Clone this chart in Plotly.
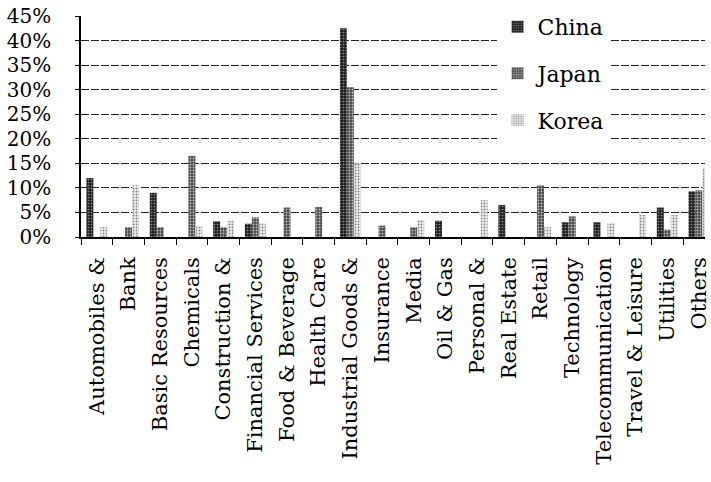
import plotly.graph_objects as go

categories = [
    "Automobiles &", "Bank", "Basic Resources", "Chemicals", "Construction &",
    "Financial Services", "Food & Beverage", "Health Care", "Industrial Goods &",
    "Insurance", "Media", "Oil & Gas", "Personal &", "Real Estate", "Retail",
    "Technology", "Telecommunication", "Travel & Leisure", "Utilities", "Others",
]
china = [12.0, 0, 9.0, 0, 3.2, 2.7, 0, 0, 42.5, 0, 0, 3.3, 0, 6.5, 0, 3.0, 3.0, 0, 6.0, 9.3]
japan = [0, 2.0, 2.0, 16.5, 2.0, 4.0, 6.0, 6.1, 30.5, 2.3, 2.0, 0, 0, 0, 10.5, 4.2, 0, 0, 1.5, 9.5]
korea = [2.0, 10.5, 0, 2.2, 3.3, 2.8, 0, 0, 15.0, 0, 3.5, 0, 7.5, 0, 2.0, 0, 2.8, 4.5, 4.5, 14.0]
y_ticks = [0, 5, 10, 15, 20, 25, 30, 35, 40, 45]

FONT = "DejaVu Serif"

series = [
    ("China", china, "#222222", "#8c8c8c", 0.25),
    ("Japan", japan, "#474747", "#c0c0c0", 0.35),
    ("Korea", korea, "#eeeeee", "#858585", 0.30),
]

fig = go.Figure()
for name, vals, bg, fg, sol in series:
    fig.add_trace(go.Bar(
        name=name, x=categories, y=vals, legendgroup=name,
        marker=dict(color=bg, line=dict(width=0),
                    pattern=dict(shape=".", bgcolor=bg, fgcolor=fg, size=3,
                                 solidity=sol, fillmode="replace")),
    ))

fig.update_layout(
    width=711, height=482, autosize=False,
    margin=dict(l=81, r=0, t=16, b=245, pad=0),
    paper_bgcolor="white", plot_bgcolor="white",
    barmode="group", bargap=0.34, bargroupgap=0,
    font=dict(family=FONT, color="black", size=20),
    showlegend=True,
    legend=dict(x=0.666, y=1.05, xanchor="left", yanchor="top",
                bgcolor="white", bordercolor="white", borderwidth=1,
                font=dict(family=FONT, size=22, color="black"),
                tracegroupgap=15, traceorder="grouped",
                entrywidth=135, entrywidthmode="pixels"),
)
fig.update_xaxes(
    type="category", range=[-0.5, 19.19],
    showline=True, linecolor="black", linewidth=1.5,
    ticks="outside", tickson="boundaries", ticklen=6, tickcolor="black",
    tickangle=-90, tickfont=dict(family=FONT, size=21, color="black"),
    ticklabelstandoff=10, showgrid=False,
)
fig.update_yaxes(
    range=[0, 45], tickvals=y_ticks, ticktext=[f"{v}%" for v in y_ticks],
    showline=True, linecolor="black", linewidth=1.5,
    ticks="outside", ticklen=4, tickcolor="black",
    tickfont=dict(family=FONT, size=20, color="black"),
    ticklabelstandoff=20,
    showgrid=True, gridcolor="#222222", gridwidth=1.2, griddash="8px,2px",
    zeroline=False,
)

fig.write_html("out.html")
